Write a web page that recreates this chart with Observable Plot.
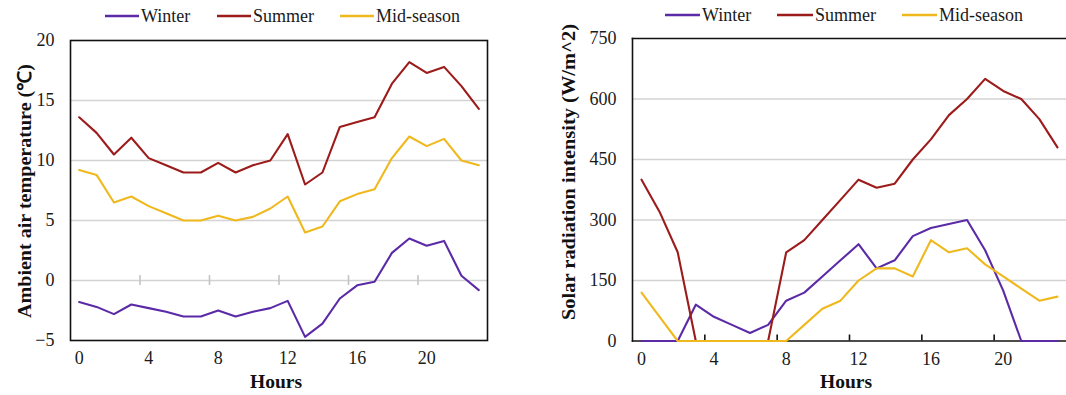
<!DOCTYPE html>
<html>
<head>
<meta charset="utf-8">
<script src="https://cdn.jsdelivr.net/npm/d3@7"></script>
<script src="https://cdn.jsdelivr.net/npm/@observablehq/plot@0.6"></script>
<style>
  html, body { margin: 0; padding: 0; background: #fff; }
  #wrap { position: relative; width: 1066px; height: 395px; overflow: hidden; font-family: "Liberation Serif", "Times New Roman", serif; }
  #left { position: absolute; left: 0; top: 0; }
  #right { position: absolute; left: 540px; top: 0; }
  #overlay { position: absolute; left: 0; top: 0; pointer-events: none; }
</style>
</head>
<body>
<div id="wrap">
  <div id="left"></div>
  <div id="right"></div>
  <svg id="overlay" width="1066" height="395"></svg>
</div>
<script>
// ---- data ----
const hours = [0,1,2,3,4,5,6,7,8,9,10,11,12,13,14,15,16,17,18,19,20,21,22,23];
const seasons = ["Winter", "Summer", "Mid-season"];
const seasonColors = ["#5b2aa6", "#9c1b1b", "#efb91e"];

const winterTemp = [-1.8,-2.2,-2.8,-2.0,-2.3,-2.6,-3.0,-3.0,-2.5,-3.0,-2.6,-2.3,-1.7,-4.7,-3.6,-1.5,-0.4,-0.1,2.3,3.5,2.9,3.3,0.4,-0.8];
const summerTemp = [13.6,12.3,10.5,11.9,10.2,9.6,9.0,9.0,9.8,9.0,9.6,10.0,12.2,8.0,9.0,12.8,13.2,13.6,16.4,18.2,17.3,17.8,16.2,14.3];
const midTemp    = [9.2,8.8,6.5,7.0,6.2,5.6,5.0,5.0,5.4,5.0,5.3,6.0,7.0,4.0,4.5,6.6,7.2,7.6,10.2,12.0,11.2,11.8,10.0,9.6];

const winterSolar = [0,0,0,90,60,40,20,40,100,120,160,200,240,180,200,260,280,290,300,225,125,0,0,0];
const summerSolar = [400,320,220,0,0,0,0,0,220,250,300,350,400,380,390,450,500,560,600,650,620,600,550,480];
const midSolar    = [120,60,0,0,0,0,0,0,0,40,80,100,150,180,180,160,250,220,230,190,160,130,100,110];

const hourTickLabels = [0,4,8,12,16,20];
const tempTicks = [-5,0,5,10,15,20];
const solarTicks = [0,150,300,450,600,750];

const tempTitle = "Ambient air temperature (℃)";
const solarTitle = "Solar radiation intensity (W/m^2)";
const xTitle = "Hours";

// ---- helpers ----
const FONT = "\"Liberation Serif\", \"Times New Roman\", serif";
const toRows = (series) => seasons.flatMap((s, i) => hours.map((h, j) => ({season: s, hour: h, value: series[i][j]})));
const tempRows = toRows([winterTemp, summerTemp, midTemp]);
const solarRows = toRows([winterSolar, summerSolar, midSolar]);
// minor tick marks sit between categories, every 4 hours
const boundaries = hourTickLabels.slice(1).map(h => h - 0.5);
const grayGrid = "#d3d3d3";

const leftPlot = Plot.plot({
  width: 540, height: 395,
  marginLeft: 70, marginRight: 53, marginTop: 40, marginBottom: 55,
  x: {domain: [-0.5, 23.5]},
  y: {domain: [-5, 20]},
  color: {domain: seasons, range: seasonColors},
  style: {fontFamily: FONT, fontSize: "18px", color: "#1a1a1a", background: "transparent", overflow: "visible"},
  marks: [
    Plot.gridY(tempTicks.slice(1, -1), {stroke: grayGrid, strokeOpacity: 1, strokeWidth: 1.6}),
    Plot.ruleX(boundaries, {x: d => d, y1: 0, y2: 0, insetTop: -5, insetBottom: -5, stroke: "#c4c4c4", strokeWidth: 1.6}),
    Plot.frame({stroke: "#111", strokeWidth: 1.6}),
    Plot.line(tempRows, {x: "hour", y: "value", z: "season", stroke: "season", strokeWidth: 2.1}),
    Plot.axisY({ticks: tempTicks, tickSize: 0, tickPadding: 16, label: null}),
    Plot.axisX({ticks: hourTickLabels, tickSize: 0, tickPadding: 11, label: null})
  ]
});
document.getElementById("left").appendChild(leftPlot);

const rightPlot = Plot.plot({
  width: 526, height: 395,
  marginLeft: 92, marginRight: 0, marginTop: 38, marginBottom: 54.5,
  x: {domain: [-0.5, 23.5]},
  y: {domain: [0, 750]},
  color: {domain: seasons, range: seasonColors},
  style: {fontFamily: FONT, fontSize: "18px", color: "#1a1a1a", background: "transparent", overflow: "visible"},
  marks: [
    Plot.gridY(solarTicks.slice(1, -1), {stroke: grayGrid, strokeOpacity: 1, strokeWidth: 1.6}),
    Plot.ruleX(boundaries, {x: d => d, y1: 0, y2: 0, insetTop: -6, insetBottom: 0, stroke: "#111", strokeWidth: 1.6}),
    Plot.frame({anchor: "top", stroke: "#111", strokeWidth: 1.6}),
    Plot.frame({anchor: "left", stroke: "#111", strokeWidth: 1.6}),
    Plot.frame({anchor: "bottom", stroke: "#111", strokeWidth: 1.6}),
    Plot.line(solarRows, {x: "hour", y: "value", z: "season", stroke: "season", strokeWidth: 2.1}),
    Plot.axisY({ticks: solarTicks, tickSize: 0, tickPadding: 16, label: null}),
    Plot.axisX({ticks: hourTickLabels, tickSize: 0, tickPadding: 11, label: null})
  ]
});
document.getElementById("right").appendChild(rightPlot);

// ---- legends and titles (overlay) ----
const ov = d3.select("#overlay");
function legend(items, y) {
  items.forEach(({x0, x1, tx, name, color}) => {
    ov.append("line").attr("x1", x0).attr("x2", x1).attr("y1", y).attr("y2", y)
      .attr("stroke", color).attr("stroke-width", 2.6);
    ov.append("text").attr("x", tx).attr("y", y + 5.5).text(name)
      .attr("font-family", FONT).attr("font-size", 18).attr("fill", "#1a1a1a");
  });
}
legend([
  {x0: 105, x1: 139, tx: 141, name: seasons[0], color: seasonColors[0]},
  {x0: 217, x1: 251, tx: 253, name: seasons[1], color: seasonColors[1]},
  {x0: 340, x1: 374, tx: 376, name: seasons[2], color: seasonColors[2]}
], 16);
legend([
  {x0: 665, x1: 700, tx: 702, name: seasons[0], color: seasonColors[0]},
  {x0: 777, x1: 813, tx: 815, name: seasons[1], color: seasonColors[1]},
  {x0: 902, x1: 937, tx: 939, name: seasons[2], color: seasonColors[2]}
], 15);

function yTitle(text, x, cy, len) {
  ov.append("text").attr("transform", `translate(${x},${cy}) rotate(-90)`)
    .attr("text-anchor", "middle").attr("font-family", FONT).attr("font-weight", "bold")
    .attr("font-size", 19).attr("fill", "#111")
    .attr("textLength", len).attr("lengthAdjust", "spacingAndGlyphs").text(text);
}
yTitle(tempTitle, 31, 191, 254);
yTitle(solarTitle, 575, 172, 296);

function xTitleAt(cx) {
  ov.append("text").attr("x", cx).attr("y", 388).attr("text-anchor", "middle")
    .attr("font-family", FONT).attr("font-weight", "bold").attr("font-size", 19)
    .attr("fill", "#111").attr("textLength", 52).attr("lengthAdjust", "spacingAndGlyphs").text(xTitle);
}
xTitleAt(276);
xTitleAt(846);
</script>
</body>
</html>
